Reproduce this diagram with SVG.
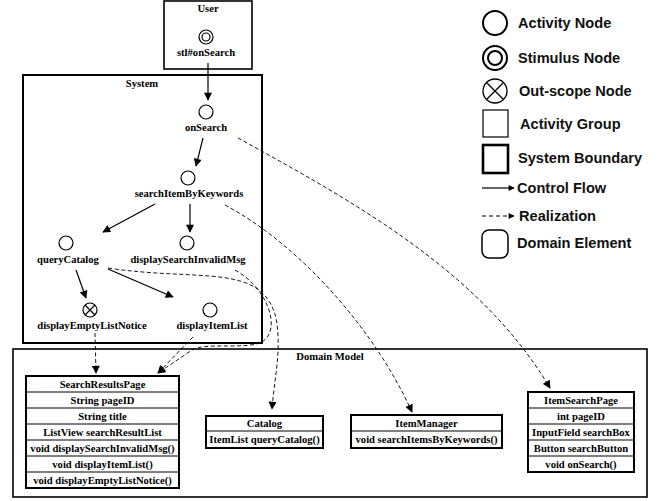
<svg xmlns="http://www.w3.org/2000/svg" width="668" height="501" viewBox="0 0 668 501">
<defs>
<marker id="arr" viewBox="0 0 10 10" refX="9" refY="5" markerWidth="9" markerHeight="8" markerUnits="userSpaceOnUse" orient="auto"><path d="M0,0 L10,5 L0,10 z" fill="#000"/></marker>
<marker id="arrs" viewBox="0 0 10 10" refX="9" refY="5" markerWidth="8" markerHeight="6" markerUnits="userSpaceOnUse" orient="auto"><path d="M0,0 L10,5 L0,10 z" fill="#000"/></marker>
</defs>
<style>
.t{font-family:"Liberation Serif","Times New Roman",serif;font-weight:bold;font-size:10.6px;fill:#000;text-anchor:middle}
.lg{font-family:"Liberation Sans",Arial,sans-serif;font-weight:bold;font-size:14.6px;fill:#111}
.n{fill:#fff;stroke:#000;stroke-width:1.2}
.cf{fill:none;stroke:#000;stroke-width:1.2;marker-end:url(#arr)}
.rz{fill:none;stroke:#000;stroke-width:0.9;stroke-dasharray:4,2.5;marker-end:url(#arr)}
.box{fill:#fff;stroke:#000;stroke-width:2}
.row{fill:none;stroke:#000;stroke-width:1}
</style>
<rect width="668" height="501" fill="#fff"/>
<g id="user">
<rect x="164" y="1" width="88" height="68" fill="none" stroke="#000" stroke-width="1.6"/>
<text class="t" x="208" y="11.5">User</text>
</g>
<g id="system">
<rect x="23" y="75" width="239" height="268" fill="none" stroke="#000" stroke-width="2"/>
<text class="t" x="142" y="86.5">System</text>
</g>
<g id="domain-model">
<rect x="13" y="349" width="634" height="148" fill="none" stroke="#000" stroke-width="1.6"/>
<text class="t" x="330" y="359.5">Domain Model</text>
</g>
<g id="stl-onSearch">
<circle class="n" cx="206" cy="37" r="7"/>
<circle class="n" cx="206" cy="37" r="4"/>
<text class="t" x="206" y="55.5">stl#onSearch</text>
</g>
<g id="onSearch">
<circle class="n" cx="206" cy="112" r="7"/>
<text class="t" x="206" y="130.5">onSearch</text>
</g>
<g id="searchItemByKeywords">
<circle class="n" cx="188" cy="178" r="7"/>
<text class="t" x="189" y="196.5">searchItemByKeywords</text>
</g>
<g id="queryCatalog">
<circle class="n" cx="66" cy="243" r="7"/>
<text class="t" x="68" y="262.5">queryCatalog</text>
</g>
<g id="displaySearchInvalidMsg">
<circle class="n" cx="187" cy="243" r="7"/>
<text class="t" x="188" y="262.5">displaySearchInvalidMsg</text>
</g>
<g id="displayEmptyListNotice">
<circle class="n" cx="90" cy="310" r="7"/>
<path d="M85,305 L95,315 M95,305 L85,315" stroke="#000" stroke-width="1.2"/>
<text class="t" x="92" y="328.5">displayEmptyListNotice</text>
</g>
<g id="displayItemList">
<circle class="n" cx="210" cy="310" r="7"/>
<text class="t" x="212" y="328.5">displayItemList</text>
</g>
<g id="SearchResultsPage">
<rect class="box" x="26" y="376" width="153" height="112"/>
<path class="row" d="M26,392H179M26,408H179M26,424H179M26,440H179M26,456H179M26,472H179"/>
<text class="t" x="102.5" y="387.5">SearchResultsPage</text>
<text class="t" x="102.5" y="403.5">String pageID</text>
<text class="t" x="102.5" y="419.5">String title</text>
<text class="t" x="102.5" y="435.5">ListView searchResultList</text>
<text class="t" x="102.5" y="451.5">void displaySearchInvalidMsg()</text>
<text class="t" x="102.5" y="467.5">void displayItemList()</text>
<text class="t" x="102.5" y="483.5">void displayEmptyListNotice()</text>
</g>
<g id="Catalog">
<rect class="box" x="206" y="416" width="117" height="32"/>
<path class="row" d="M206,431H323"/>
<text class="t" x="264.5" y="427">Catalog</text>
<text class="t" x="264.5" y="443">ItemList queryCatalog()</text>
</g>
<g id="ItemManager">
<rect class="box" x="351" y="415" width="151" height="33"/>
<path class="row" d="M351,431H502"/>
<text class="t" x="426.5" y="426.5">ItemManager</text>
<text class="t" x="426.5" y="443">void searchItemsByKeywords()</text>
</g>
<g id="ItemSearchPage">
<rect class="box" x="528" y="392" width="106" height="80"/>
<path class="row" d="M528,408H634M528,424H634M528,440H634M528,456H634"/>
<text class="t" x="581" y="403.5">ItemSearchPage</text>
<text class="t" x="581" y="419.5">int pageID</text>
<text class="t" x="581" y="435.5">InputField searchBox</text>
<text class="t" x="581" y="451.5">Button searchButton</text>
<text class="t" x="581" y="467.5">void onSearch()</text>
</g>
<g id="connectors">
<path class="cf" d="M208,63 L208,100"/>
<path class="cf" d="M203,138 L196,166"/>
<path class="cf" d="M155,204 L103,232"/>
<path class="cf" d="M190,204 L190,232"/>
<path class="cf" d="M76,270 L86,298"/>
<path class="cf" d="M108,269 L173,297"/>
<path class="rz" d="M238,138 C350,200 480,270 550,388"/>
<path class="rz" d="M225,205 C300,245 375,330 412,412"/>
<path class="rz" d="M108,268 C200,282 262,262 276,318 C282,350 274,380 272,409"/>
<path class="rz" d="M235,270 C268,288 282,330 262,342 C245,350 205,342 192,350 L158,373"/>
<path class="rz" d="M193,337 L158,373"/>
<path class="rz" d="M95,333 L96,373"/>
</g>
<g id="legend">
<circle cx="495" cy="23" r="12" fill="none" stroke="#000" stroke-width="2"/>
<text class="lg" x="518" y="28">Activity Node</text>
<circle cx="495" cy="58" r="12" fill="none" stroke="#000" stroke-width="2"/>
<circle cx="495" cy="58" r="7" fill="none" stroke="#000" stroke-width="2"/>
<text class="lg" x="518" y="63">Stimulus Node</text>
<circle cx="495" cy="91" r="12" fill="none" stroke="#000" stroke-width="1.3"/>
<path d="M486.5,82.5 L503.5,99.5 M503.5,82.5 L486.5,99.5" stroke="#000" stroke-width="1.3"/>
<text class="lg" x="519" y="96">Out-scope Node</text>
<rect x="483" y="110" width="25" height="27" fill="none" stroke="#000" stroke-width="1.2"/>
<text class="lg" x="520" y="129">Activity Group</text>
<rect x="483" y="145" width="25" height="28" fill="none" stroke="#000" stroke-width="2.6"/>
<text class="lg" x="518" y="163">System Boundary</text>
<path d="M482,188 L514,188" fill="none" stroke="#000" stroke-width="1.2" marker-end="url(#arrs)"/>
<text class="lg" x="517" y="193">Control Flow</text>
<path d="M482,216 L514,216" fill="none" stroke="#000" stroke-width="1.2" stroke-dasharray="4,3" marker-end="url(#arrs)"/>
<text class="lg" x="519" y="221">Realization</text>
<rect x="482" y="230" width="26" height="28" rx="7" fill="none" stroke="#000" stroke-width="1.5"/>
<text class="lg" x="517" y="248">Domain Element</text>
</g>
</svg>
